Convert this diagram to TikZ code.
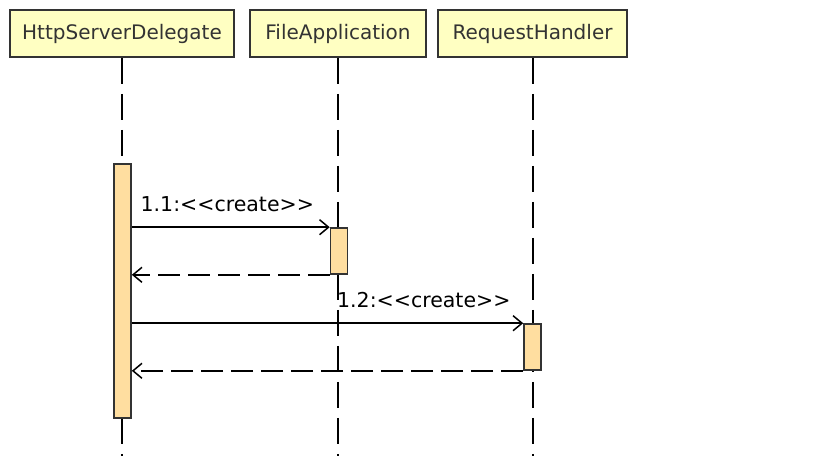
\documentclass[tikz,border=0pt]{standalone}
\usepackage{fontspec}
\setmainfont{DejaVu Sans}
\usetikzlibrary{arrows.meta}
\definecolor{partfill}{RGB}{255,255,194}
\definecolor{actfill}{RGB}{255,222,160}
\definecolor{inkgray}{RGB}{51,51,51}
\begin{document}
\begin{tikzpicture}[x=1pt, y=-1pt,
    part/.style={draw=inkgray, line width=1.8pt, fill=partfill, text=inkgray,
        minimum height=47pt, inner sep=0pt, font=\fontsize{20}{24}\selectfont},
    life/.style={line width=1.7pt, dash pattern=on 26pt off 10pt},
    act/.style={draw=inkgray, line width=1.6pt, fill=actfill, minimum width=17pt, inner sep=0pt},
    msg/.style={line width=1.5pt, -{Straight Barb[length=9pt, width=15pt]}},
    ret/.style={msg, dash pattern=on 22pt off 8pt},
    lbl/.style={inner sep=0pt, font=\fontsize{20.5}{25}\selectfont}]
    \useasboundingbox (0,0) rectangle (828,456);
    \node[part, minimum width=224pt] (hsd)  at (122,33.5) {HttpServerDelegate};
    \node[part, minimum width=176pt] (fapp) at (338,33.5) {FileApplication};
    \node[part, minimum width=189pt] (rh)   at (532.5,33.5) {RequestHandler};
    \coordinate (hsdend)  at (122,456);
    \coordinate (fappend) at (338,456);
    \coordinate (rhend)   at (533,456);
    \foreach \p in {hsd, fapp, rh}
        \draw[life] (\p.south -| \p end) -- (\p end);
    \node[act, minimum height=254pt] (acthsd)  at (122.5,291) {};
    \node[act, minimum height=46pt]  (actfapp) at (339,251) {};
    \node[act, minimum height=46pt]  (actrh)   at (532.5,347) {};
    \draw[msg] (acthsd.east |- actfapp.north) -- node[lbl, pos=1, anchor=south east, xshift=-15pt, yshift=15pt]
        {1.1:<{}<create>{}>} (actfapp.north west);
    \draw[ret] (actfapp.south west) -- (acthsd.east |- actfapp.south);
    \draw[msg] (acthsd.east |- actrh.north) -- node[lbl, pos=1, anchor=south east, xshift=-12pt, yshift=15pt]
        {1.2:<{}<create>{}>} (actrh.north west);
    \draw[ret] (actrh.south west) -- (acthsd.east |- actrh.south);
\end{tikzpicture}
\end{document}
